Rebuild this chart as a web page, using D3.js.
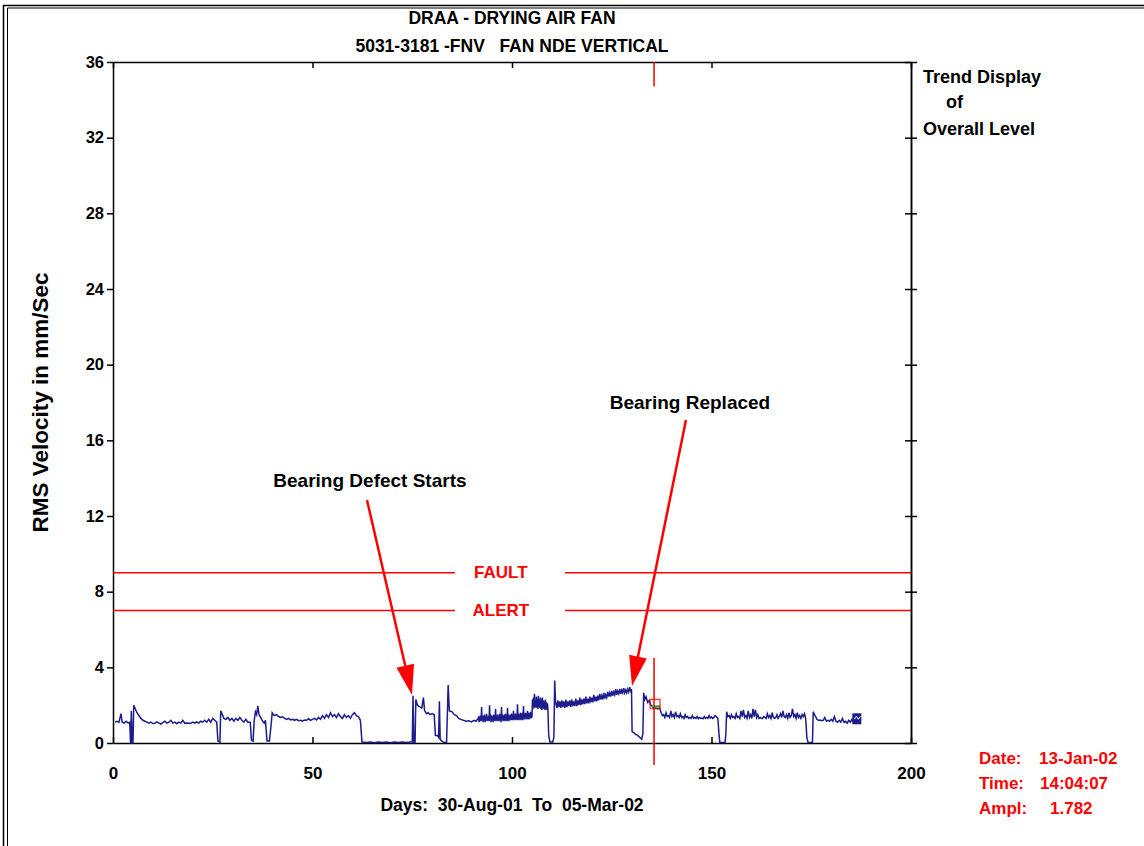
<!DOCTYPE html>
<html><head><meta charset="utf-8">
<script src="https://cdn.jsdelivr.net/npm/d3@7"></script>
<style>
body{margin:0;background:#fff;}
svg{display:block;font-family:"Liberation Sans",Arial,sans-serif;}
text{white-space:pre;}
</style></head><body>
<svg id="c" width="1144" height="846"></svg>
<script>
// ---------------- data ----------------
const titleLines = ["DRAA - DRYING AIR FAN", "5031-3181 -FNV   FAN NDE VERTICAL"];
const sideLabel = ["Trend Display", "of", "Overall Level"];
const yAxisTitle = "RMS Velocity in mm/Sec";
const xAxisTitle = "Days:  30-Aug-01  To  05-Mar-02";
const yTicks = [0, 4, 8, 12, 16, 20, 24, 28, 32, 36];
const xTicks = [0, 50, 100, 150, 200];
const limitNames = ["FAULT", "ALERT"];
const limitValues = [9, 7];
const limitLabelDay = 97.2;
const limitGap = [85.7, 113.3];
const cursorDay = 135.6;
const cursorAmpl = 1.782;
const cursorInfoLabels = ["Date:", "Time:", "Ampl:"];
const cursorInfoValues = ["13-Jan-02", "14:04:07", "1.782"];
const annotationTexts = ["Bearing Defect Starts", "Bearing Replaced"];
const annotationTextPos = [[64.4, 13.9], [144.6, 18.0]];
const annotationTail = [[63.66, 12.84], [143.6, 17.07]];
const annotationTip = [[74.94, 2.54], [130.08, 3.01]];

// trend: [day, RMS velocity mm/s]
const trend = [
[0.5,1.1],[1.0,1.15],[1.5,1.1],[2.0,1.55],[2.3,1.1],[2.8,1.05],[3.3,1.15],[3.8,1.05],[4.2,1.1],[4.4,0.0],[4.6,1.7],[4.8,0.0],[5.0,0.0],[5.2,2.0],[5.6,1.8],[6.0,1.6],[6.5,1.45],[7.0,1.3],[7.5,1.2],[8.0,1.15],[8.5,1.1],[9.0,1.05],[9.5,1.1],[10.0,1.03],[10.5,1.04],[11.0,1.12],[11.5,1.05],[12.0,1.0],[12.5,1.08],[13.0,1.15],[13.5,1.05],[14.0,1.1],[14.5,1.2],[15.0,1.05],[15.5,1.1],[16.0,1.02],[16.5,1.1],[17.0,1.05],[17.5,1.2],[18.0,1.04],[18.5,1.06],[19.0,1.05],[19.5,1.04],[20.0,1.1],[20.5,1.05],[21.0,1.12],[21.5,1.05],[22.0,1.15],[22.5,1.1],[23.0,1.2],[23.5,1.1],[24.0,1.25],[24.5,1.1],[25.0,1.3],[25.5,1.2],[26.0,1.1],
[26.3,0.1],[26.8,0.05],[27.0,1.7],[27.4,1.5],[27.8,1.3],[28.3,1.25],[28.8,1.35],[29.3,1.2],[29.8,1.3],[30.3,1.15],[30.8,1.3],[31.3,1.2],[31.8,1.35],[32.3,1.2],[32.8,1.1],[33.3,1.25],[33.8,1.1],[34.4,1.1],[34.7,0.15],[35.1,0.1],[35.4,1.2],[35.7,1.65],[36.0,1.5],[36.3,1.95],[36.6,1.5],[37.0,1.35],[37.5,1.15],[37.9,1.05],[38.2,1.2],[38.6,0.1],[39.2,0.1],[39.6,0.9],[39.9,1.6],
[40.4,1.45],[41.0,1.5],[41.5,1.4],[42.0,1.35],[42.5,1.38],[43.0,1.3],[43.5,1.25],[44.0,1.3],[44.5,1.22],[45.0,1.25],[45.5,1.2],[46.0,1.25],[46.5,1.18],[47.0,1.2],[47.5,1.15],[48.0,1.22],[48.5,1.2],[49.0,1.28],[49.5,1.2],[50.0,1.25],[50.5,1.3],[51.0,1.22],[51.5,1.35],[52.0,1.25],[52.5,1.45],[53.0,1.3],[53.5,1.5],[54.0,1.35],[54.5,1.6],[55.0,1.4],[55.5,1.5],[56.0,1.35],[56.5,1.55],[57.0,1.4],[57.5,1.3],[58.0,1.5],[58.5,1.35],[59.0,1.45],[59.5,1.3],[60.0,1.5],[60.5,1.6],[61.0,1.45],[61.5,1.4],[62.0,1.2],
[62.4,0.05],[63.5,0.03],[64.5,0.05],[65.5,0.02],[66.5,0.05],[67.5,0.03],[68.5,0.05],[69.5,0.02],[70.5,0.05],[71.5,0.03],[72.5,0.05],[73.5,0.03],[74.5,0.05],[75.0,0.05],
[75.2,2.5],[75.4,0.02],[75.7,0.02],[75.9,2.3],[76.3,2.0],[76.6,1.95],[77.0,1.9],[77.4,1.85],[77.8,2.4],[78.1,1.7],[78.6,1.55],[79.0,1.6],[79.5,1.5],[80.0,1.55],[80.5,1.5],[80.8,0.4],[81.3,0.4],[81.6,0.3],[81.8,2.2],[82.0,0.2],[82.4,0.1],[83.0,0.02],[83.6,0.02],[84.0,3.07],[84.3,1.7],[85.0,1.65],[85.5,1.5],[86.1,1.45],[86.6,1.3],[87.2,1.25],[87.8,1.2],[88.5,1.15],[89.2,1.18],[89.8,1.12],[90.5,1.2],[91.0,1.15],[91.5,1.3],
[91.625,1.35],[91.75,1.1],[91.875,1.4],[92.0,1.15],[92.125,1.45],[92.25,1.15],[92.375,1.9],[92.5,1.2],[92.625,1.4],[92.75,1.1],[92.875,1.45],[93.0,1.2],[93.125,1.5],[93.25,1.1],[93.375,1.4],[93.5,1.2],[93.625,1.55],[93.75,1.15],[93.875,1.4],[94.0,1.2],[94.125,1.45],[94.25,1.15],[94.375,2.0],[94.5,1.2],[94.625,1.5],[94.75,1.1],[94.875,1.45],[95.0,1.2],[95.125,1.4],[95.25,1.1],[95.375,1.5],[95.5,1.2],[95.625,1.45],[95.75,1.15],[95.875,1.8],[96.0,1.2],[96.125,1.45],[96.25,1.15],[96.375,1.5],[96.5,1.2],[96.625,1.4],[96.75,1.15],[96.875,1.55],[97.0,1.2],[97.125,1.45],[97.25,1.1],[97.375,1.9],[97.5,1.2],[97.625,1.5],[97.75,1.15],[97.875,1.45],[98.0,1.2],[98.125,1.5],[98.25,1.15],[98.375,1.55],[98.5,1.2],[98.625,1.45],[98.75,1.15],[98.875,1.85],[99.0,1.2],[99.125,1.5],[99.25,1.15],[99.375,1.45],[99.5,1.25],[99.625,1.5],[99.75,1.2],[99.875,1.55],[100.0,1.2],[100.125,1.5],[100.25,1.2],[100.375,1.7],[100.5,1.25],[100.625,1.5],[100.75,1.2],[100.875,1.55],[101.0,1.25],[101.125,1.5],[101.25,1.2],[101.375,2.05],[101.5,1.25],[101.625,1.55],[101.75,1.2],[101.875,1.5],[102.0,1.25],[102.125,1.6],[102.25,1.2],[102.375,1.55],[102.5,1.25],[102.625,1.6],[102.75,1.2],[102.875,1.95],[103.0,1.3],[103.125,1.55],[103.25,1.25],[103.375,1.6],[103.5,1.3],[103.625,1.55],[103.75,1.25],[103.875,1.7],[104.0,1.3],[104.125,1.6],[104.25,1.25],[104.375,1.55],[104.5,1.3],[104.625,1.65],[104.75,1.3],[104.875,1.55],[105.0,1.35],
[105.125,2.3],[105.25,1.8],[105.375,2.4],[105.5,1.9],[105.625,2.6],[105.75,1.85],[105.875,2.3],[106.0,1.9],[106.125,2.45],[106.25,1.85],[106.375,2.35],[106.5,1.8],[106.625,2.5],[106.75,1.9],[106.875,2.3],[107.0,1.85],[107.125,2.4],[107.25,1.8],[107.375,2.3],[107.5,1.75],[107.625,2.4],[107.75,1.85],[107.875,2.25],[108.0,1.8],[108.125,2.2],[108.25,1.75],[108.375,2.3],[108.5,1.8],[108.625,2.15],[108.75,1.75],[108.875,2.1],[109.0,1.8],
[109.2,0.4],[109.5,0.05],[110.2,0.05],[110.5,0.3],[110.7,3.3],[110.9,2.2],
[111.25,1.85],[111.5,2.25],[111.75,1.9],[112.0,2.2],[112.25,1.85],[112.5,2.25],[112.75,1.9],[113.0,2.2],[113.25,1.85],[113.5,2.3],[113.75,1.9],[114.0,2.2],[114.25,1.95],[114.5,2.25],[114.75,1.9],[115.0,2.3],[115.25,1.95],[115.5,2.2],[115.75,1.95],[116.0,2.35],[116.25,1.95],[116.5,2.25],[116.75,2.0],[117.0,2.4],[117.25,2.0],[117.5,2.3],[117.75,2.05],[118.0,2.35],[118.25,2.05],[118.5,2.45],[118.75,2.1],[119.0,2.35],[119.25,2.1],[119.5,2.45],[119.75,2.15],[120.0,2.4],[120.25,2.15],[120.5,2.55],[120.75,2.2],[121.0,2.45],[121.25,2.2],[121.5,2.5],[121.75,2.25],[122.0,2.6],[122.25,2.3],[122.5,2.5],[122.75,2.3],[123.0,2.65],[123.25,2.35],[123.5,2.55],[123.75,2.4],[124.0,2.7],[124.25,2.45],[124.5,2.65],[124.75,2.45],[125.0,2.75],[125.25,2.5],[125.5,2.7],[125.75,2.55],[126.0,2.85],[126.25,2.55],[126.5,2.75],[126.75,2.6],[127.0,2.85],[127.25,2.6],[127.5,2.8],[127.75,2.65],[128.0,2.9],[128.25,2.65],[128.5,2.8],[128.75,2.65],[129.0,2.85],[129.25,2.7],[129.5,2.95],[129.75,2.75],[129.95,2.85],
[130.1,0.6],[130.5,0.55],[131.0,0.45],[131.5,0.4],[132.0,0.3],[132.5,0.2],[132.8,0.5],[133.0,2.65],[133.3,2.3],[133.6,2.45],[134.0,2.15],[134.4,2.25],[134.8,2.0],[135.2,1.95],[135.6,1.782],[136.0,1.85],[136.5,1.8],[137.0,1.85],[137.4,1.6],[137.7,1.45],
[138.0,1.5],[138.3,1.35],[138.6,1.6],[138.9,1.4],[139.2,1.45],[139.5,1.35],[139.8,1.7],[140.1,1.4],[140.4,1.5],[140.7,1.35],[141.0,1.65],[141.3,1.4],[141.6,1.45],[141.9,1.35],[142.2,1.55],[142.5,1.35],[142.8,1.4],[143.1,1.3],[143.4,1.5],[143.7,1.35],[144.0,1.4],[144.3,1.3],[144.6,1.35],[144.9,1.3],[145.2,1.45],[145.5,1.3],[145.8,1.35],[146.1,1.3],[146.4,1.4],[146.7,1.28],[147.0,1.35],[147.3,1.3],[147.6,1.32],[147.9,1.28],[148.2,1.4],[148.5,1.3],[148.8,1.35],[149.1,1.3],[149.4,1.45],[149.7,1.32],[150.0,1.38],[150.3,1.3],[150.6,1.35],[150.9,1.45],[151.2,1.4],[151.6,1.3],
[151.9,0.4],[152.1,0.02],[153.4,0.02],[153.6,0.5],[153.8,1.65],[154.1,1.4],[154.4,1.45],[154.7,1.3],[155.0,1.5],[155.3,1.35],[155.6,1.4],[155.9,1.3],[156.2,1.55],[156.5,1.35],[156.8,1.4],[157.1,1.3],[157.4,1.7],[157.7,1.4],[158.0,1.75],[158.3,1.35],[158.6,1.45],[158.9,1.3],[159.2,1.7],[159.5,1.35],[159.8,1.5],[160.1,1.3],[160.4,1.8],[160.7,1.4],[161.0,1.75],[161.3,1.35],[161.6,1.5],[161.9,1.3],[162.2,1.35],[162.5,1.3],[162.8,1.3],[163.1,1.4],[163.4,1.35],[163.7,1.3],[164.0,1.55],[164.3,1.35],[164.6,1.45],[164.9,1.3],[165.2,1.6],[165.5,1.35],[165.8,1.3],[166.1,1.35],[166.4,1.5],[166.7,1.3],[167.0,1.4],[167.3,1.55],[167.6,1.35],[167.9,1.7],[168.2,1.4],[168.5,1.35],[168.8,1.5],[169.1,1.3],[169.4,1.6],[169.7,1.35],[170.0,1.45],[170.3,1.8],[170.6,1.4],[170.9,1.5],[171.2,1.3],[171.5,1.6],[171.8,1.35],[172.1,1.45],[172.4,1.3],[172.7,1.5],[173.0,1.4],[173.3,1.55],[173.6,1.3],
[173.9,0.3],[174.2,0.02],[175.3,0.02],[175.5,1.65],[175.8,1.5],[176.1,1.4],[176.4,1.25],[176.8,1.2],[177.2,1.22],[177.6,1.18],[178.0,1.2],[178.4,1.35],[178.8,1.15],[179.2,1.2],[179.6,1.15],[180.0,1.25],[180.4,1.15],[180.8,1.4],[181.2,1.15],[181.6,1.1],[182.0,1.2],[182.4,1.1],[182.8,1.3],[183.2,1.1],[183.6,1.15],[184.0,1.05],[184.4,1.2],[184.8,1.1],[185.2,1.25],[185.6,1.1],[186.0,1.3],[186.4,1.15],[186.8,1.2]
];

// ---------------- drawing ----------------
const svg = d3.select("#c");
const x = d3.scaleLinear().domain([0, 200]).range([113, 911]);
const y = d3.scaleLinear().domain([0, 36]).range([743, 62]);
const RED = "#ff0000", NAVY = "#1c1c8c";

// page frame
svg.append("path").attr("d", "M3.5,846 V5.5 H1144").attr("fill", "none").attr("stroke", "#000").attr("stroke-width", 1.5);
svg.append("path").attr("d", "M7.5,846 V8 H1144").attr("fill", "none").attr("stroke", "#000").attr("stroke-width", 1);

// titles
svg.selectAll(".title").data(titleLines).join("text")
  .attr("x", 512).attr("y", (d, i) => 18 + i * 28)
  .attr("text-anchor", "middle").attr("dominant-baseline", "central")
  .attr("font-size", 17.5).attr("font-weight", "bold").text(d => d);

// side label
svg.selectAll(".side").data(sideLabel).join("text")
  .attr("x", (d, i) => i === 1 ? 946 : 923).attr("y", (d, i) => [77, 102, 129][i])
  .attr("dominant-baseline", "central")
  .attr("font-size", 18).attr("font-weight", "bold").text(d => d);

// axes
const axisStyle = g => { g.selectAll("path,line").attr("stroke", "#000").attr("stroke-width", 1.5); g.selectAll("text").attr("font-family", "Liberation Sans, Arial, sans-serif").attr("font-weight", "bold").attr("fill", "#000"); };

svg.append("g").attr("transform", `translate(${x(0)},0)`)
  .call(d3.axisLeft(y).tickValues(yTicks).tickSize(6).tickSizeOuter(0).tickPadding(3).tickFormat(d3.format("d")))
  .call(axisStyle).call(g => g.selectAll("text").attr("font-size", 16.5));

svg.append("g").attr("transform", `translate(0,${y(0)})`)
  .call(d3.axisBottom(x).tickValues(xTicks).tickSize(-6).tickSizeOuter(0).tickPadding(24).tickFormat(d3.format("d")))
  .call(axisStyle).call(g => g.selectAll("text").attr("font-size", 17));

svg.append("g").attr("transform", `translate(0,${y(36)})`)
  .call(d3.axisTop(x).tickValues(xTicks).tickSize(-6).tickSizeOuter(0).tickFormat(""))
  .call(axisStyle);

svg.append("g").attr("transform", `translate(${x(200)},0)`)
  .call(d3.axisRight(y).tickValues(yTicks).tickSize(6).tickSizeOuter(0).tickFormat(""))
  .call(axisStyle);
svg.append("g").attr("transform", `translate(${x(200)},0)`)
  .call(d3.axisLeft(y).tickValues(yTicks).tickSize(6).tickSizeOuter(0).tickFormat(""))
  .call(axisStyle);

// axis titles
svg.append("text").attr("transform", `translate(40,${y(18)}) rotate(-90)`)
  .attr("text-anchor", "middle").attr("dominant-baseline", "central")
  .attr("font-size", 22.5).attr("font-weight", "bold").text(yAxisTitle);
svg.append("text").attr("x", 512).attr("y", 805)
  .attr("text-anchor", "middle").attr("dominant-baseline", "central")
  .attr("font-size", 17.5).attr("font-weight", "bold").text(xAxisTitle);

// limit lines
limitValues.forEach((v, i) => {
  svg.append("line").attr("x1", x(0)).attr("x2", x(limitGap[0])).attr("y1", y(v)).attr("y2", y(v))
    .attr("stroke", RED).attr("stroke-width", 1.5);
  svg.append("line").attr("x1", x(limitGap[1])).attr("x2", x(200)).attr("y1", y(v)).attr("y2", y(v))
    .attr("stroke", RED).attr("stroke-width", 1.5);
  svg.append("text").attr("x", x(limitLabelDay)).attr("y", y(v))
    .attr("text-anchor", "middle").attr("dominant-baseline", "central")
    .attr("font-size", 17).attr("font-weight", "bold").attr("fill", RED).text(limitNames[i]);
});

// trend line
svg.append("path").datum(trend)
  .attr("d", d3.line().x(d => x(d[0])).y(d => y(d[1])))
  .attr("fill", "none").attr("stroke", NAVY).attr("stroke-width", 1.5).attr("stroke-linejoin", "miter");

// end marker
const last = trend[trend.length - 1];
svg.append("rect").attr("x", x(last[0]) - 6).attr("y", y(last[1]) - 7).attr("width", 9).attr("height", 11)
  .attr("fill", NAVY);
svg.append("path").attr("d", `M${x(last[0]) - 4},${y(last[1]) - 1} l2,-3 l2,3 l2,-3`)
  .attr("fill", "none").attr("stroke", "#fff").attr("stroke-width", 1);

// cursor
const cx = x(cursorDay);
svg.append("line").attr("x1", cx).attr("x2", cx).attr("y1", y(36)).attr("y2", y(34.7)).attr("stroke", RED).attr("stroke-width", 1.5);
svg.append("line").attr("x1", cx).attr("x2", cx).attr("y1", y(4.5)).attr("y2", y(-1.16)).attr("stroke", RED).attr("stroke-width", 1.5);
svg.append("line").attr("x1", cx - 2).attr("x2", cx + 6).attr("y1", y(cursorAmpl) - 3).attr("y2", y(cursorAmpl) - 3).attr("stroke", "#11aa22").attr("stroke-width", 2);
svg.append("rect").attr("x", cx - 4).attr("y", y(cursorAmpl) - 10).attr("width", 10).attr("height", 9)
  .attr("fill", "none").attr("stroke", RED).attr("stroke-width", 1);

// cursor info
cursorInfoLabels.forEach((l, i) => {
  svg.append("text").attr("x", 979).attr("y", 758 + i * 25).attr("dominant-baseline", "central")
    .attr("font-size", 17).attr("font-weight", "bold").attr("fill", RED).text(l);
  svg.append("text").attr("x", [1039, 1040, 1050][i]).attr("y", 758 + i * 25).attr("dominant-baseline", "central")
    .attr("font-size", 17).attr("font-weight", "bold").attr("fill", RED).text(cursorInfoValues[i]);
});

// annotations
annotationTexts.forEach((t, i) => {
  svg.append("text").attr("x", x(annotationTextPos[i][0])).attr("y", y(annotationTextPos[i][1]))
    .attr("text-anchor", "middle").attr("dominant-baseline", "central")
    .attr("font-size", 19).attr("font-weight", "bold").text(t);
  const x0 = x(annotationTail[i][0]), y0 = y(annotationTail[i][1]);
  const x1 = x(annotationTip[i][0]), y1 = y(annotationTip[i][1]);
  const len = Math.hypot(x1 - x0, y1 - y0), ux = (x1 - x0) / len, uy = (y1 - y0) / len;
  const hl = 30, hw = 9;
  const bx = x1 - ux * hl, by = y1 - uy * hl;
  svg.append("line").attr("x1", x0).attr("y1", y0).attr("x2", bx + ux * 2).attr("y2", by + uy * 2)
    .attr("stroke", RED).attr("stroke-width", 2.5);
  svg.append("path").attr("d", `M${x1},${y1} L${bx - uy * hw},${by + ux * hw} L${bx + uy * hw},${by - ux * hw} Z`)
    .attr("fill", RED);
});
</script>
</body></html>
